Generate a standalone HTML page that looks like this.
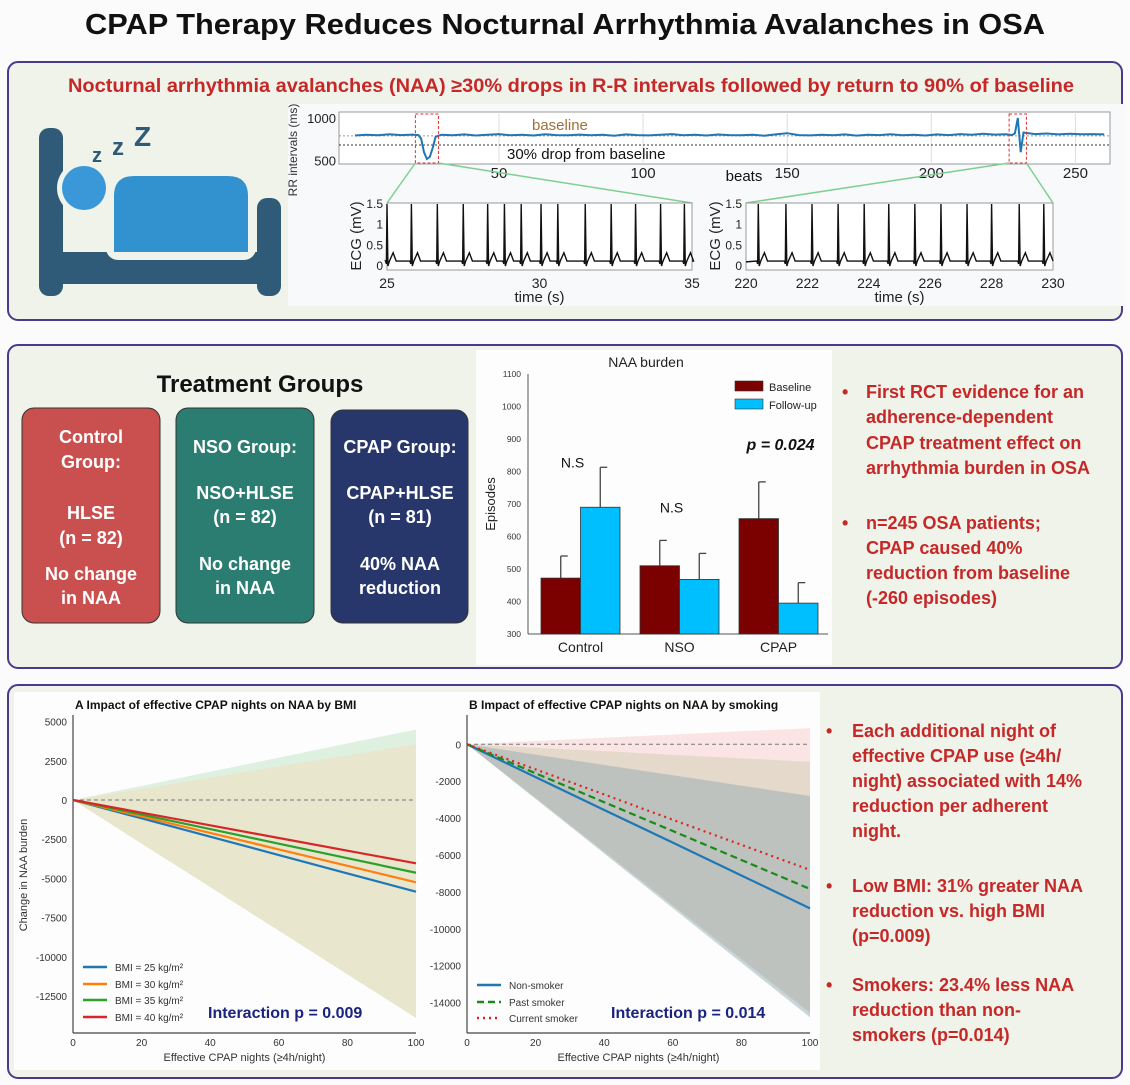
<!DOCTYPE html>
<html><head><meta charset="utf-8"><style>
html,body{margin:0;padding:0;background:#fbfbfb;}
svg{display:block;font-family:"Liberation Sans",sans-serif;}
</style></head><body>
<svg id="pg" width="1130" height="1085" viewBox="0 0 1130 1085">
<text x="565" y="34" text-anchor="middle" font-size="29" font-weight="bold" fill="#111" textLength="960" lengthAdjust="spacingAndGlyphs">CPAP Therapy Reduces Nocturnal Arrhythmia Avalanches in  OSA</text>

<!-- Panel 1 -->
<rect x="8" y="62" width="1114" height="258" rx="10" fill="#eff3e9" stroke="#4a3a8f" stroke-width="2"/>
<text x="571" y="92" text-anchor="middle" font-size="19" font-weight="bold" fill="#c62828" textLength="1006" lengthAdjust="spacingAndGlyphs">Nocturnal arrhythmia avalanches (NAA) ≥30% drops in R-R intervals followed by return  to 90% of baseline</text>
<g>
<rect x="39" y="128" width="24" height="168" rx="10" fill="#2f5b78"/>
<rect x="257" y="198" width="24" height="98" rx="10" fill="#2f5b78"/>
<rect x="62" y="252" width="200" height="32" fill="#2f5b78"/>
<rect x="106" y="168" width="150" height="92" rx="12" fill="#eff3e9"/>
<path d="M114 252 V196 Q114 176 134 176 H228 Q248 176 248 196 V252 Z" fill="#3192cf"/>
<circle cx="84" cy="188" r="27" fill="#eff3e9"/>
<circle cx="84" cy="188" r="22" fill="#3a98d8"/>
<text x="92" y="162" font-size="20" font-weight="bold" fill="#2f5b78">z</text>
<text x="112" y="155" font-size="24" font-weight="bold" fill="#2f5b78">z</text>
<text x="134" y="146" font-size="28" font-weight="bold" fill="#2f5b78">Z</text>
</g>
<rect x="288" y="104" width="837" height="202" fill="#f7f9fa"/>
<g id="rrChart"></g>
<g id="ecgChart"></g>

<!-- Panel 2 -->
<rect x="8" y="345" width="1114" height="323" rx="10" fill="#eff3e9" stroke="#4a3a8f" stroke-width="2"/>
<text x="260" y="392" text-anchor="middle" font-size="24" font-weight="bold" fill="#111">Treatment Groups</text>
<g>
<rect x="22" y="408" width="138" height="215" rx="12" fill="#c9504e" stroke="#333" stroke-width="1"/>
<g font-size="18" font-weight="bold" fill="#fff" text-anchor="middle">
<text x="91" y="443">Control</text><text x="91" y="468">Group:</text>
<text x="91" y="519">HLSE</text><text x="91" y="544">(n = 82)</text>
<text x="91" y="580">No change</text><text x="91" y="604">in NAA</text></g></g>
<g>
<rect x="176" y="408" width="138" height="215" rx="12" fill="#2a7d70" stroke="#333" stroke-width="1"/>
<g font-size="18" font-weight="bold" fill="#fff" text-anchor="middle">
<text x="245" y="453">NSO Group:</text>
<text x="245" y="499">NSO+HLSE</text><text x="245" y="523">(n = 82)</text>
<text x="245" y="570">No change</text><text x="245" y="594">in NAA</text></g></g>
<g>
<rect x="331" y="410" width="137" height="213" rx="12" fill="#27376b" stroke="#333" stroke-width="1"/>
<g font-size="18" font-weight="bold" fill="#fff" text-anchor="middle">
<text x="400" y="453">CPAP Group:</text>
<text x="400" y="499">CPAP+HLSE</text><text x="400" y="523">(n = 81)</text>
<text x="400" y="570">40% NAA</text><text x="400" y="594">reduction</text></g></g>
<rect x="476" y="350" width="356" height="315" fill="#fdfdfd"/>
<g id="barChart"></g>
<g font-size="18" font-weight="bold" fill="#c62828">
<text x="842" y="398">•</text>
<text x="866" y="398">First RCT evidence for an</text>
<text x="866" y="423">adherence-dependent</text>
<text x="866" y="449">CPAP treatment effect on</text>
<text x="866" y="474">arrhythmia burden in OSA</text>
<text x="842" y="529">•</text>
<text x="866" y="529">n=245 OSA patients;</text>
<text x="866" y="554">CPAP caused 40%</text>
<text x="866" y="579">reduction from baseline</text>
<text x="866" y="604">(-260 episodes)</text>
</g>

<!-- Panel 3 -->
<rect x="8" y="685" width="1114" height="393" rx="10" fill="#eff3e9" stroke="#4a3a8f" stroke-width="2"/>
<rect x="14" y="692" width="806" height="378" fill="#fdfdfd"/>
<g id="chartA"></g>
<g id="chartB"></g>
<g font-size="18" font-weight="bold" fill="#c62828">
<text x="826" y="737">•</text>
<text x="852" y="737">Each additional night of</text>
<text x="852" y="762">effective CPAP use (≥4h/</text>
<text x="852" y="787">night) associated with 14%</text>
<text x="852" y="812">reduction per adherent</text>
<text x="852" y="837">night.</text>
<text x="826" y="892">•</text>
<text x="852" y="892">Low BMI: 31% greater NAA</text>
<text x="852" y="917">reduction vs. high BMI</text>
<text x="852" y="942">(p=0.009)</text>
<text x="826" y="991">•</text>
<text x="852" y="991">Smokers: 23.4% less NAA</text>
<text x="852" y="1016">reduction than non-</text>
<text x="852" y="1041">smokers (p=0.014)</text>
</g>
</svg>
<script>
// ---------- DATA ----------
const rrBeats = [0,4,8,12,16,20,22,23,24,25,26,27,28,30,34,38,42,46,50,54,58,62,66,70,74,78,82,86,90,94,98,102,106,110,114,118,122,126,130,134,138,142,146,150,154,158,162,166,170,174,178,182,186,190,194,198,202,206,210,214,218,222,226,228,229,230,231,232,236,240,244,248,252,256,260];
const rrValues = [795,805,798,810,800,806,800,760,600,520,545,650,780,805,798,808,795,803,812,798,805,795,810,800,797,806,799,804,793,808,800,796,805,812,798,803,795,807,800,797,805,793,808,822,800,796,805,799,808,794,803,800,810,797,805,795,808,800,812,803,815,806,810,800,820,1000,600,830,812,818,808,815,810,812,808];
const rrTicks = [50,100,150,200,250];
const ecgLeftBeats = [25.0,25.8,26.65,27.5,28.3,28.85,29.4,30.05,30.6,31.5,32.35,33.15,33.97,34.75];
const ecgRightBeats = [220.4,221.3,222.15,223.0,223.85,224.65,225.5,226.35,227.2,228.0,228.9,229.7];
const ecgLeftTicks = [25,30,35];
const ecgRightTicks = [220,222,224,226,228,230];
const ecgYTicks = [0,0.5,1,1.5];

const barGroups = ["Control","NSO","CPAP"];
const baselineVals = [472,510,655];
const baselineErr = [540,588,768];
const followVals = [690,468,395];
const followErr = [813,548,458];
const barSig = ["N.S","N.S","p = 0.024"];
const barYTicks = [300,400,500,600,700,800,900,1000,1100];

const nights = [0,20,40,60,80,100];
const bmiLabels = ["BMI = 25 kg/m²","BMI = 30 kg/m²","BMI = 35 kg/m²","BMI = 40 kg/m²"];
const bmi25 = [0,-1170,-2340,-3510,-4680,-5850];
const bmi30 = [0,-1050,-2100,-3150,-4200,-5250];
const bmi35 = [0,-928,-1856,-2784,-3712,-4640];
const bmi40 = [0,-808,-1616,-2424,-3232,-4040];
const bmiBandUpper = [0,900,1800,2700,3600,4500];
const bmiBandUpper2 = [0,714,1428,2142,2856,3570];
const bmiBandLower = [0,-2780,-5560,-8340,-11120,-13900];
const aYTicks = [5000,2500,0,-2500,-5000,-7500,-10000,-12500];

const smokeLabels = ["Non-smoker","Past smoker","Current smoker"];
const nonSmoker = [0,-1780,-3560,-5330,-7110,-8890];
const pastSmoker = [0,-1570,-3140,-4700,-6270,-7840];
const currentSmoker = [0,-1360,-2720,-4090,-5450,-6810];
const curBandUp = [0,176,352,528,704,880];
const curBandLo = [0,-2900,-5800,-8700,-11600,-14500];
const pastBandUp = [0,-190,-380,-570,-760,-950];
const pastBandLo = [0,-2920,-5840,-8760,-11680,-14600];
const nonBandUp = [0,-560,-1120,-1680,-2240,-2800];
const nonBandLo = [0,-2960,-5920,-8880,-11840,-14800];
const bYTicks = [0,-2000,-4000,-6000,-8000,-10000,-12000,-14000];
const xTicks = [0,20,40,60,80,100];

// ---------- HELPERS ----------
const NS="http://www.w3.org/2000/svg";
function mk(parent,tag,attrs,txt){const e=document.createElementNS(NS,tag);for(const k in attrs)e.setAttribute(k,attrs[k]);if(txt!==undefined)e.textContent=txt;parent.appendChild(e);return e;}
function lin(d0,d1,r0,r1){return v=>r0+(v-d0)/(d1-d0)*(r1-r0);}

// ---------- RR CHART ----------
(function(){
const g=document.getElementById('rrChart');
const x=lin(-5.5,262,339,1110), y=lin(500,1000,160.7,118);
mk(g,'rect',{x:339,y:112,width:771,height:52,fill:'#fff',stroke:'#999','stroke-width':1});
rrTicks.forEach(t=>{mk(g,'line',{x1:x(t),x2:x(t),y1:112,y2:164,stroke:'#ddd'});
const l=mk(g,'text',{x:x(t),y:178,'text-anchor':'middle','font-size':15,fill:'#222'},t);});
[1000,500].forEach(t=>{const l=mk(g,'text',{x:336,y:y(t)+5,'text-anchor':'end','font-size':13,fill:'#222'},t);});
const yl=mk(g,'text',{x:0,y:0,transform:'translate(297,150) rotate(-90)','text-anchor':'middle','font-size':12,fill:'#333'},'RR intervals (ms)');

const bl=mk(g,'line',{x1:339,x2:1110,y1:y(790),y2:y(790),stroke:'#999','stroke-dasharray':'2,2'});

const dl=mk(g,'line',{x1:339,x2:1110,y1:y(684),y2:y(684),stroke:'#333','stroke-dasharray':'2,2'});

let d='';rrBeats.forEach((b,i)=>{d+=(i?'L':'M')+x(b).toFixed(1)+' '+y(rrValues[i]).toFixed(1);});
const p=mk(g,'path',{d:d,fill:'none',stroke:'#1f77b4','stroke-width':2});

const t1=mk(g,'text',{x:532,y:130,'font-size':15,fill:'#a0703a'},'baseline');
const t2=mk(g,'text',{x:507,y:159,'font-size':15,fill:'#111'},'30% drop from baseline');
const bx=mk(g,'text',{x:744,y:181,'text-anchor':'middle','font-size':15,fill:'#111'},'beats');
const b1=mk(g,'rect',{x:x(21),y:114,width:x(29)-x(21),height:49,fill:'none',stroke:'#e03030','stroke-dasharray':'3,2'});

const b2=mk(g,'rect',{x:x(227),y:114,width:x(233)-x(227),height:49,fill:'none',stroke:'#e03030','stroke-dasharray':'3,2'});

mk(g,'line',{x1:x(21),y1:163,x2:387,y2:203,stroke:'#7fcf8f','stroke-width':1.5});
mk(g,'line',{x1:x(29),y1:163,x2:692,y2:203,stroke:'#7fcf8f','stroke-width':1.5});
mk(g,'line',{x1:x(227),y1:163,x2:746,y2:203,stroke:'#7fcf8f','stroke-width':1.5});
mk(g,'line',{x1:x(233),y1:163,x2:1053,y2:203,stroke:'#7fcf8f','stroke-width':1.5});
})();

// ---------- ECG ----------
(function(){
const g=document.getElementById('ecgChart');
function ecg(x0,x1,t0,t1,beats,ticks,name){
 const x=lin(t0,t1,x0,x1), y=lin(0,1.5,266,204);
 const box=mk(g,'rect',{x:x0,y:203,width:x1-x0,height:67,fill:'#fff',stroke:'#999'});
 
 ticks.forEach(t=>{const l=mk(g,'text',{x:x(t),y:288,'text-anchor':'middle','font-size':14,fill:'#222'},t);});
 ecgYTicks.forEach(t=>{const l=mk(g,'text',{x:x0-4,y:y(t)+4,'text-anchor':'end','font-size':12,fill:'#222'},t);});
 let d='M'+x0+' '+y(0.1);
 beats.forEach(b=>{d+=' L'+x(b-0.05)+' '+y(0.12)+' L'+x(b-0.02)+' '+y(0.05)+' L'+x(b)+' '+y(1.5)+' L'+x(b+0.03)+' '+y(0.0)+' L'+x(b+0.08)+' '+y(0.12)+' L'+x(b+0.2)+' '+y(0.32)+' L'+x(b+0.3)+' '+y(0.12);});
 d+=' L'+x1+' '+y(0.12);
 const p=mk(g,'path',{d:d,fill:'none',stroke:'#111','stroke-width':1.4});
 
 const xl=mk(g,'text',{x:(x0+x1)/2,y:302,'text-anchor':'middle','font-size':15,fill:'#222'},'time (s)');
 
 const yl=mk(g,'text',{x:0,y:0,transform:'translate('+(x0-26)+',236) rotate(-90)','text-anchor':'middle','font-size':15,fill:'#222'},'ECG (mV)');
 
}
ecg(387,692,25,35,ecgLeftBeats,ecgLeftTicks,'ecg-left');
ecg(746,1053,220,230,ecgRightBeats,ecgRightTicks,'ecg-right');
})();

// ---------- BAR CHART ----------
(function(){
const g=document.getElementById('barChart');
const y=lin(300,1100,634,374);
const t=mk(g,'text',{x:646,y:367,'text-anchor':'middle','font-size':14,fill:'#222'},'NAA burden');

mk(g,'line',{x1:528,x2:528,y1:374,y2:634,stroke:'#555'});
mk(g,'line',{x1:528,x2:828,y1:634,y2:634,stroke:'#555'});
barYTicks.forEach(v=>{const l=mk(g,'text',{x:521,y:y(v)+3,'text-anchor':'end','font-size':8.5,fill:'#333'},v);});
const yt=mk(g,'text',{x:0,y:0,transform:'translate(495,504) rotate(-90)','text-anchor':'middle','font-size':13,fill:'#222'},'Episodes');

const x0=541, gw=99, bw=39.5;
barGroups.forEach((name,i)=>{
 const gx=x0+i*gw;
 [[baselineVals[i],baselineErr[i],'#7b0000','baseline'],[followVals[i],followErr[i],'#00bfff','follow-up']].forEach((s,j)=>{
  const bx=gx+j*bw, cx=bx+bw/2;
  mk(g,'line',{x1:cx,x2:cx,y1:y(s[1]),y2:y(s[0]),stroke:'#444','stroke-width':1.3});
  mk(g,'line',{x1:cx,x2:cx+7,y1:y(s[1]),y2:y(s[1]),stroke:'#444','stroke-width':1.3});
  const r=mk(g,'rect',{x:bx,y:y(s[0]),width:bw,height:y(300)-y(s[0]),fill:s[2],stroke:'#333','stroke-width':0.8});
  
 });
 const l=mk(g,'text',{x:gx+bw,y:652,'text-anchor':'middle','font-size':14,fill:'#222'},name);
 
 const top=Math.max(baselineErr[i],followErr[i]);
 const isP=barSig[i].startsWith('p');
 const s=mk(g,'text',{x:isP?gx+bw+2:gx+bw-8,y:isP?y(top)-32:y(top)-28+(i===0?28:0),'text-anchor':'middle','font-size':isP?16:14,'font-weight':isP?'bold':'normal','font-style':isP?'italic':'normal',fill:'#111'},barSig[i]);
 
});
const lg=[['Baseline','#7b0000',388],['Follow-up','#00bfff',406]];
lg.forEach(e=>{const r=mk(g,'rect',{x:735,y:e[2]-7,width:28,height:10,fill:e[1],stroke:'#333','stroke-width':0.6});

const l=mk(g,'text',{x:769,y:e[2]+3,'font-size':11,fill:'#222'},e[0]);});
})();

// ---------- LINE CHARTS ----------
function lineChart(gid,opt){
 const g=document.getElementById(gid);
 const x=lin(0,100,opt.x0,opt.x1), y=lin(0,opt.tickStep,opt.y0,opt.y0-opt.pxStep);
 const tt=mk(g,'text',{x:opt.x0+2,y:709,'font-size':12,'font-weight':'bold',fill:'#111'},opt.title);
 
 opt.bands.forEach(b=>{let d='';nights.forEach((n,i)=>{d+=(i?'L':'M')+x(n)+' '+y(b[0][i]);});
  for(let i=nights.length-1;i>=0;i--)d+='L'+x(nights[i])+' '+y(b[1][i]);
  const p=mk(g,'path',{d:d+'Z',fill:b[2],'fill-opacity':b[3]});});
 mk(g,'line',{x1:opt.x0,x2:opt.x1,y1:y(0),y2:y(0),stroke:'#777','stroke-dasharray':'4,3'});
 mk(g,'line',{x1:opt.x0,x2:opt.x0,y1:715,y2:1033,stroke:'#444','stroke-width':1.2});
 mk(g,'line',{x1:opt.x0,x2:opt.x1,y1:1033,y2:1033,stroke:'#444','stroke-width':1.2});
 opt.yTicks.forEach(v=>{const l=mk(g,'text',{x:opt.x0-6,y:y(v)+4,'text-anchor':'end','font-size':10,fill:'#333'},v);});
 xTicks.forEach(v=>{const l=mk(g,'text',{x:x(v),y:1046,'text-anchor':'middle','font-size':10,fill:'#333'},v);});
 const xl=mk(g,'text',{x:(opt.x0+opt.x1)/2,y:1061,'text-anchor':'middle','font-size':11,fill:'#333'},'Effective CPAP nights (≥4h/night)');
 
 opt.series.forEach((s,k)=>{let d='';nights.forEach((n,i)=>{d+=(i?'L':'M')+x(n)+' '+y(s[0][i]);});
  const p=mk(g,'path',{d:d,fill:'none',stroke:s[1],'stroke-width':2.2,'stroke-dasharray':s[2]});
  
  const ly=opt.legY[k];
  mk(g,'line',{x1:opt.legX,x2:opt.legX+24,y1:ly,y2:ly,stroke:s[1],'stroke-width':2.5,'stroke-dasharray':s[2]});
  const l=mk(g,'text',{x:opt.legX+32,y:ly+4,'font-size':10,fill:'#333'},s[3]);});
 const ip=mk(g,'text',{x:opt.pX,y:1018,'font-size':16,'font-weight':'bold',fill:'#1a237e'},opt.pText);
 
}
lineChart('chartA',{x0:73,x1:416,y0:800,tickStep:2500,pxStep:39.2,title:'A    Impact of effective CPAP nights on NAA by BMI',yTicks:aYTicks,
 bands:[[bmiBandUpper,bmiBandUpper2,'#bfe3c4',0.5],[bmiBandUpper2,bmiBandLower,'#d8d3a8',0.55]],
 series:[[bmi25,'#1f77b4','none',bmiLabels[0]],[bmi30,'#ff7f0e','none',bmiLabels[1]],[bmi35,'#2ca02c','none',bmiLabels[2]],[bmi40,'#d62728','none',bmiLabels[3]]],
 legX:83,legY:[967,984,1000,1017],pX:208,pText:'Interaction p = 0.009'});
lineChart('chartB',{x0:467,x1:810,y0:744.3,tickStep:-2000,pxStep:-36.9,title:'B  Impact of effective CPAP nights on NAA by smoking',yTicks:bYTicks,
 bands:[[curBandUp,curBandLo,'#f6c6c6',0.45],[pastBandUp,pastBandLo,'#b9c79a',0.35],[nonBandUp,nonBandLo,'#8fa6b0',0.45]],
 series:[[nonSmoker,'#1f77b4','none',smokeLabels[0]],[pastSmoker,'#1a8a1a','7,4',smokeLabels[1]],[currentSmoker,'#e02020','2,4',smokeLabels[2]]],
 legX:477,legY:[985,1002,1018],pX:611,pText:'Interaction p = 0.014'});
const ya=mk(document.getElementById('chartA'),'text',{x:0,y:0,transform:'translate(27,875) rotate(-90)','text-anchor':'middle','font-size':11,fill:'#333'},'Change in NAA burden');


</script>
</body></html>
